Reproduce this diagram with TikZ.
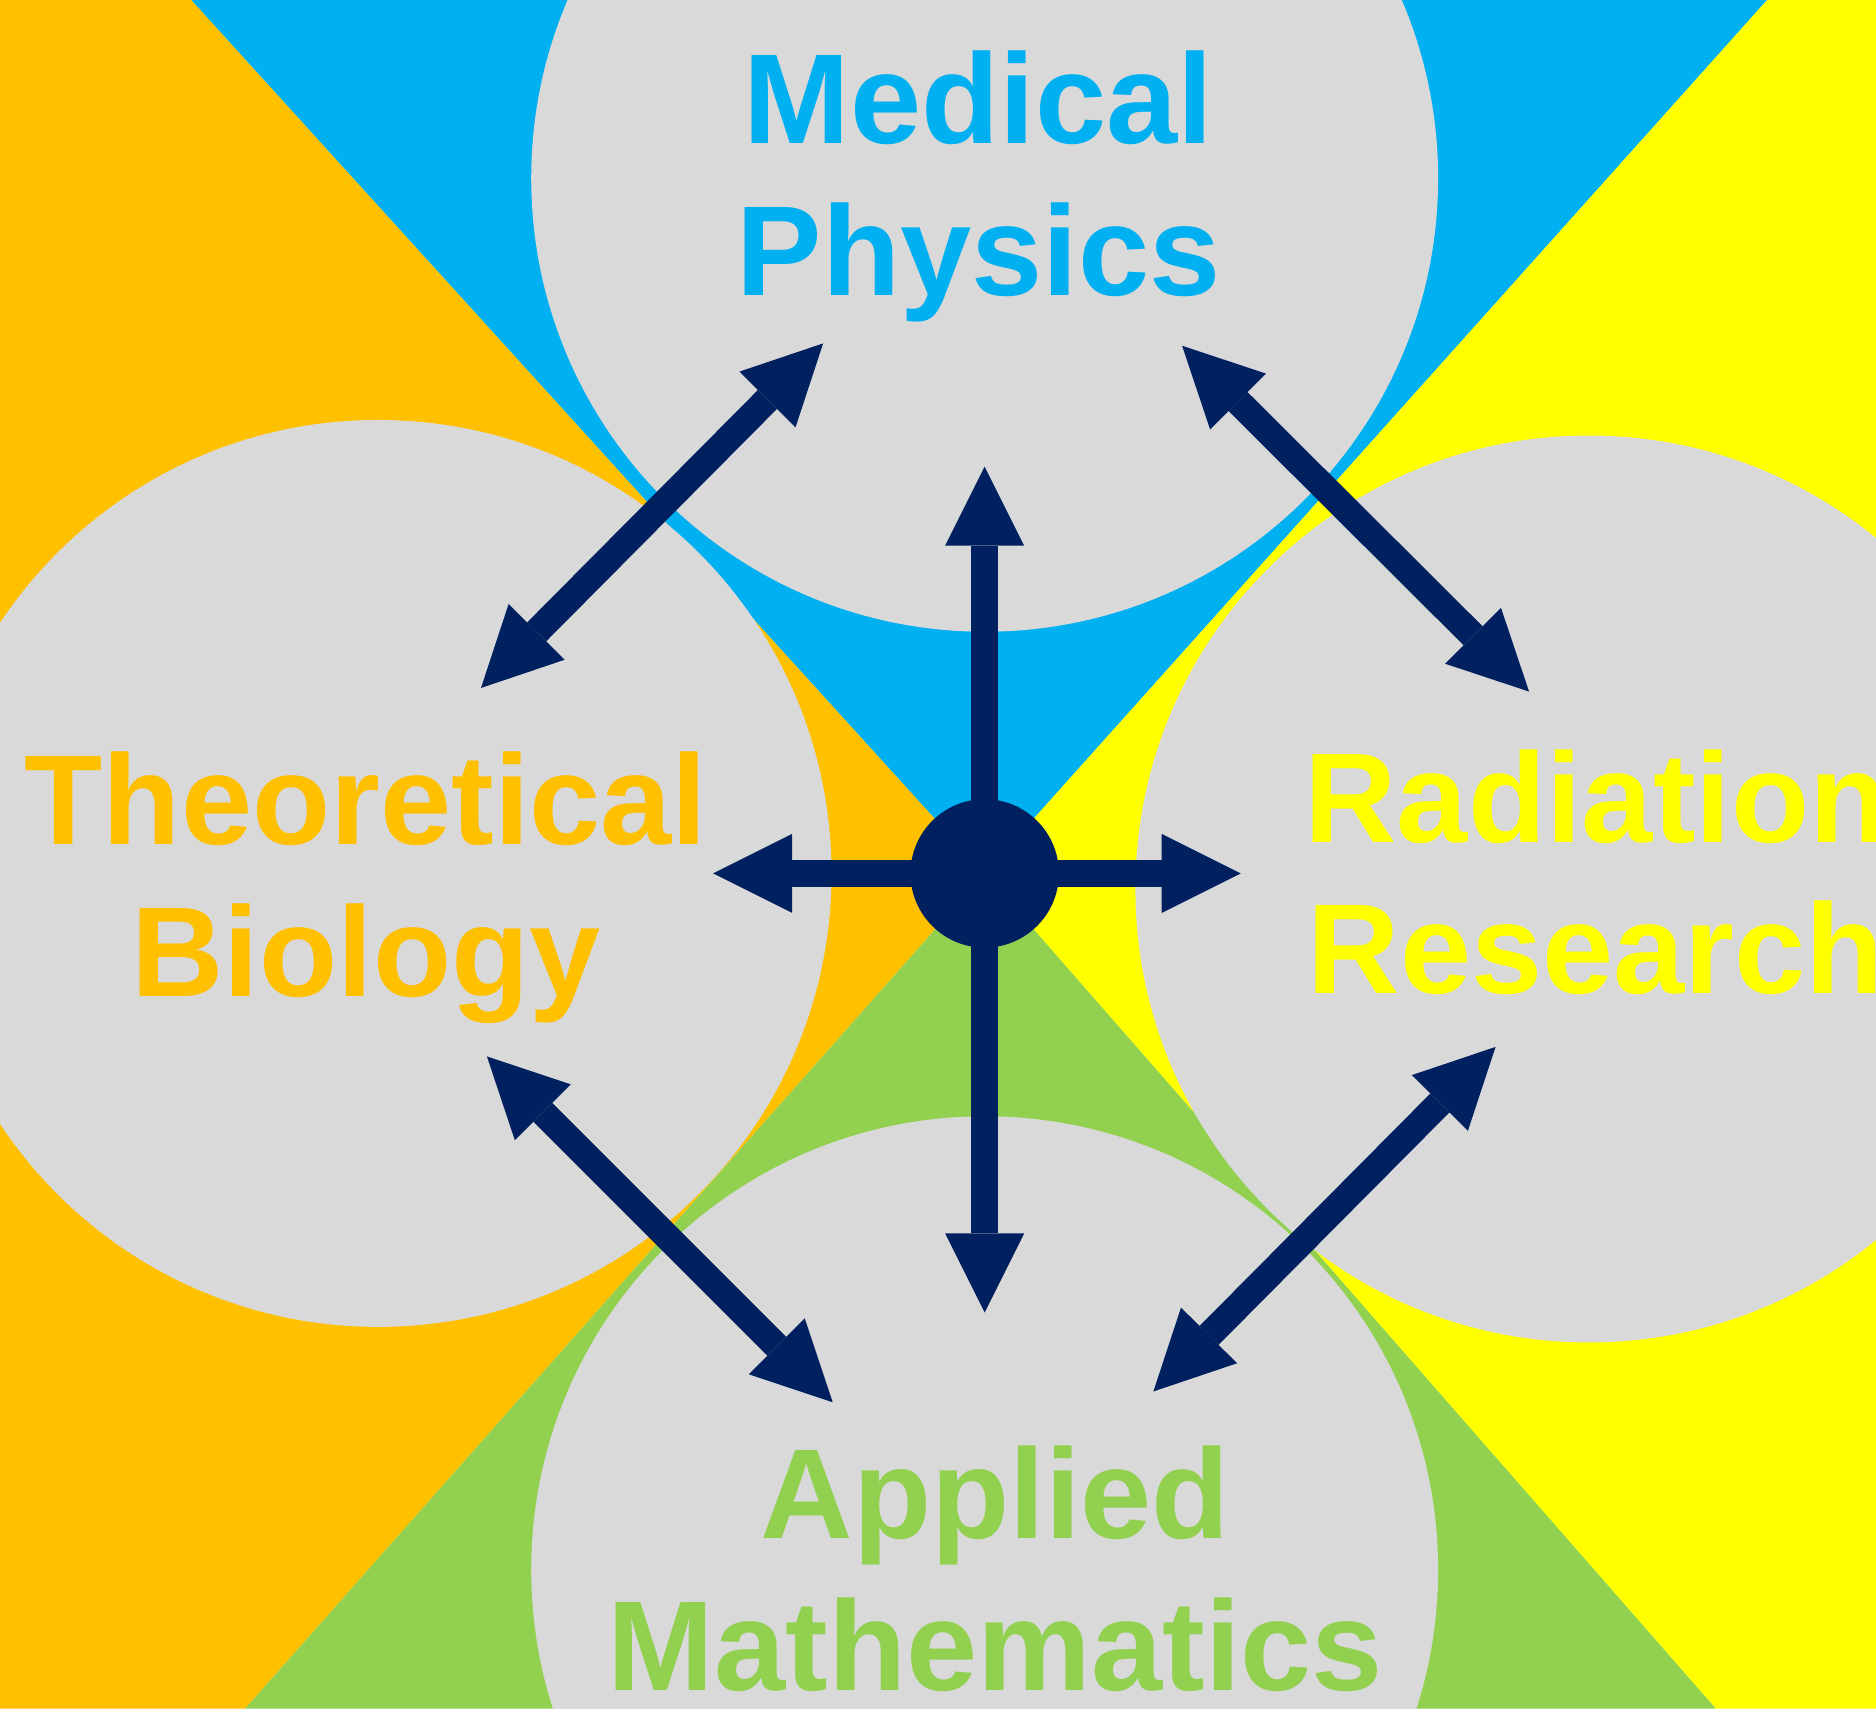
\documentclass[tikz,border=0pt]{standalone}
\usepackage{fontspec}
\setmainfont{Liberation Sans}
\usepackage{xcolor}
\usepackage{tikz}
\usetikzlibrary{arrows.meta}
\definecolor{medblue}{HTML}{00B0F0}
\definecolor{bioorange}{HTML}{FFC000}
\definecolor{radyellow}{HTML}{FFFF00}
\definecolor{mathgreen}{HTML}{92D050}
\definecolor{discgray}{HTML}{D9D9D9}
\definecolor{navyblue}{HTML}{002060}

\begin{document}
\begin{tikzpicture}[x=0.012cm, y=-0.012cm,
    >={Triangle[width=0.792cm, length=0.792cm, line width=0pt]},
    field/.style={font=\fontsize{36.5}{43.3}\selectfont\bfseries, align=center, inner sep=0pt},
    link/.style={<->, line width=0.269cm, draw=navyblue, fill=navyblue}]
        \useasboundingbox (0,0) rectangle (1568,1428);
        \clip (0,0) rectangle (1568,1428);
        \coordinate (c) at (823,730);

        % coloured quarters
        \fill[bioorange] (0,0) -- (160,0) -- (c) -- (205,1428) -- (0,1428) -- cycle;
        \fill[medblue] (160,0) -- (1477,0) -- (c) -- cycle;
        \fill[radyellow] (1477,0) -- (1568,0) -- (1568,1428) -- (1434,1428) -- (c) -- cycle;
        \fill[mathgreen] (205,1428) -- (1434,1428) -- (c) -- cycle;

        % discs
        \fill[discgray] (823,149) circle[radius=379];
        \fill[discgray] (316,730) circle[radius=379];
        \fill[discgray] (1328,743) circle[radius=379];
        \fill[discgray] (823,1312) circle[radius=379];

        \node[field, text=medblue] (medphys) at (818,156) {Medical\\Physics};
        \node[field, text=bioorange] (theobio) at (306,742) {Theoretical\\Biology};
        \node[field, text=radyellow] (radres) at (1334,729) {Radiation\\Research};
        \node[field, text=mathgreen] (applmath) at (832,1311) {Applied\\Mathematics};

        % arrow ends
        \coordinate (c-n) at (823,390);
        \coordinate (c-s) at (823,1097);
        \coordinate (c-w) at (596,730);
        \coordinate (c-e) at (1037,730);
        \coordinate (mp-sw) at (688,287);
        \coordinate (tb-ne) at (402,575);
        \coordinate (mp-se) at (988,289);
        \coordinate (rr-nw) at (1278,578);
        \coordinate (tb-se) at (407,883);
        \coordinate (am-nw) at (696,1172);
        \coordinate (rr-sw) at (1250,875);
        \coordinate (am-ne) at (964,1163);

        \draw[link] (c-n) -- (c-s);
        \draw[link] (c-w) -- (c-e);
        \draw[link] (mp-sw) -- (tb-ne);
        \draw[link] (mp-se) -- (rr-nw);
        \draw[link] (tb-se) -- (am-nw);
        \draw[link] (rr-sw) -- (am-ne);

        \node[circle, fill=navyblue, minimum size=1.488cm, inner sep=0pt] (hub) at (c) {};
    \end{tikzpicture}
\end{document}
